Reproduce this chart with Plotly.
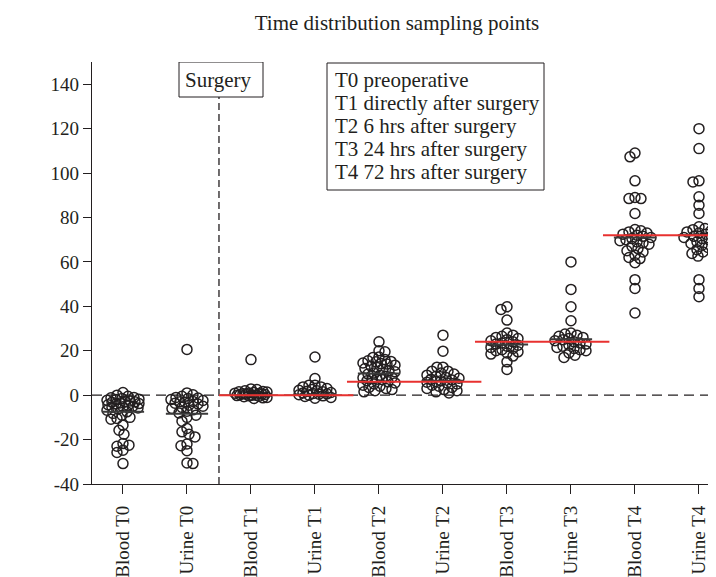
import plotly.graph_objects as go

# ---------------- data ----------------
categories = ["Blood T0", "Urine T0", "Blood T1", "Urine T1", "Blood T2",
              "Urine T2", "Blood T3", "Urine T3", "Blood T4", "Urine T4"]

blood_t0 = [1.2, 0.0, -0.5, -1.0, -1.2, -1.5, -1.8, -2.0, -2.3, -2.6, -2.8, -3.0, -3.2,
            -3.5, -3.8, -4.0, -4.3, -4.6, -5.0, -5.2, -5.4, -5.8, -6.2, -6.8, -7.5,
            -8.2, -9.0, -10.0, -10.5, -10.8, -13.5, -15.8, -17.6, -21.8, -22.5,
            -23.0, -24.8, -25.8, -30.8]
urine_t0 = [20.6, 1.0, 0.2, -0.5, -1.0, -1.3, -1.5, -2.0, -2.4, -2.8, -3.0, -3.2,
            -3.6, -4.0, -4.5, -5.0, -5.5, -6.0, -6.6, -7.2, -8.0, -9.0, -10.0,
            -11.7, -15.0, -16.5, -17.6, -18.8, -22.0, -22.8, -25.0, -30.5, -30.8]
blood_t1 = [16.0, 2.8, 2.5, 2.0, 1.7, 1.5, 1.4, 1.2, 1.0, 0.9, 0.8, 0.6, 0.5, 0.4,
            0.3, 0.2, 0.0, 0.0, -0.2, -0.3, -0.5, -0.7, -1.0, -1.2, -1.5]
urine_t1 = [17.2, 7.5, 4.5, 4.5, 3.7, 3.7, 3.0, 2.6, 2.2, 2.0, 1.8, 1.5, 1.2, 1.0,
            0.8, 0.6, 0.4, 0.2, 0.0, -0.3, -0.6, -1.0, -1.4]
blood_t2 = [24.0, 20.0, 19.5, 17.2, 17.0, 16.0, 15.5, 15.2, 15.0, 14.5, 14.2, 14.0,
            13.5, 13.0, 12.5, 12.0, 11.5, 11.0, 10.5, 10.0, 9.5, 9.0, 8.5, 8.0,
            7.8, 7.5, 7.2, 7.0, 6.5, 6.0, 5.5, 5.0, 4.5, 4.0, 3.5, 3.0, 2.5, 2.0, 1.5]
urine_t2 = [27.0, 19.8, 12.6, 12.6, 10.8, 10.8, 10.0, 9.5, 9.0, 8.5, 8.0, 7.6, 7.2,
            6.8, 6.5, 6.2, 5.8, 5.5, 5.0, 4.5, 4.0, 3.5, 3.0, 2.5, 2.0, 1.5, 1.0]
blood_t3 = [39.8, 38.6, 33.8, 28.0, 27.0, 26.5, 26.0, 25.5, 25.0, 24.5, 24.0, 23.5,
            23.0, 22.5, 22.0, 21.5, 21.0, 20.5, 20.0, 19.5, 19.0, 18.5, 17.6, 15.0, 11.6]
urine_t3 = [60.0, 47.6, 39.8, 33.5, 28.0, 27.5, 27.0, 26.5, 26.0, 25.5, 25.0, 24.5,
            24.0, 23.5, 23.0, 22.5, 22.0, 21.5, 21.0, 20.5, 20.0, 19.0, 18.0, 17.0]
blood_t4 = [109.0, 107.3, 96.5, 89.0, 88.5, 88.5, 81.8, 74.6, 74.0, 73.5, 73.0, 72.5,
            72.0, 71.5, 71.0, 70.5, 70.0, 69.5, 69.0, 68.5, 68.0, 67.0, 66.0, 65.0,
            64.5, 63.0, 62.0, 61.5, 59.6, 52.0, 48.0, 37.0]
urine_t4 = [120.0, 111.0, 96.5, 96.0, 89.3, 85.5, 81.8, 75.8, 75.0, 74.5, 74.0, 73.5,
            73.0, 72.5, 72.0, 71.5, 71.0, 70.5, 70.0, 69.0, 68.3, 67.5, 66.5, 65.5,
            64.5, 63.8, 62.6, 52.0, 48.0, 44.3]

group_values = [blood_t0, urine_t0, blood_t1, urine_t1, blood_t2,
                urine_t2, blood_t3, urine_t3, blood_t4, urine_t4]

medians = [-7.5, -8.4, 0.0, 0.3, 9.8, 6.5, 22.8, 25.2, 71.0, 72.0]
nominal_hours = [0, 6, 24, 72]            # red reference lines T1..T4
nominal_groups = [(2, 3), (4, 5), (6, 7), (8, 9)]

y_ticks = [-40, -20, 0, 20, 40, 60, 80, 100, 120, 140]
y_tick_text = ["-40", "-20", "0", "20", "40", "60", "80", "100", "120", "140"]

title_text = "Time distribution sampling points"
y_title = "(Hours)"
surgery_label = "Surgery"
legend_lines = ["T0 preoperative", "T1 directly after surgery",
                "T2 6 hrs after surgery", "T3 24 hrs after surgery",
                "T4 72 hrs after surgery"]

# ---------------- layout constants ----------------
# the page has an 8px body margin, so the figure is 708x569 and sits at (8, 8)
OFF = 8
W, H = 708, 569
ML, MR, MT, MB = 84, 0, 54, 93
X_RANGE = [-0.484, 9.266]
Y_RANGE = [-40, 150]
PW, PH = W - ML - MR, H - MT - MB
PX_X = PW / (X_RANGE[1] - X_RANGE[0])
PX_Y = PH / (Y_RANGE[1] - Y_RANGE[0])


def dx(px):   # window pixel x -> x data
    return X_RANGE[0] + (px - OFF - ML) / PX_X


def dy(py):   # window pixel y -> y data
    return Y_RANGE[1] - (py - OFF - MT) / PX_Y


INK = "#231f20"
RED = "#e8312f"
FONT = "Liberation Serif"


def swarm_offsets(values, d=6.0, cap=16):
    """Capped beeswarm: points spread horizontally up to +-cap px; when no free
    spot exists they overlap at the least crowded position."""
    order = sorted(range(len(values)), key=lambda i: -values[i])
    placed = []
    offs = [0.0] * len(values)
    cands = [0]
    for k in range(1, cap + 1):
        cands += [k, -k]
    flip = 1
    for i in order:
        yp = values[i] * PX_Y
        best, best_score = 0, -1.0
        chosen = None
        for c0 in cands:
            c = c0 * flip
            md = min([((c - px) ** 2 + (yp - py) ** 2) ** 0.5 for px, py in placed] or [1e9])
            if md >= d:
                chosen = c
                break
            if md > best_score:
                best_score, best = md, c
        if chosen is None:
            chosen = best
        placed.append((chosen, yp))
        offs[i] = chosen / PX_X
        flip = -flip
    return offs


fig = go.Figure()

for gi, vals in enumerate(group_values):
    offs = swarm_offsets(vals)
    fig.add_trace(go.Scatter(
        x=[gi + o for o in offs], y=vals, mode="markers",
        marker=dict(symbol="circle-open", size=10, color=INK, line=dict(width=1.5)),
        showlegend=False, hoverinfo="y"))

shapes = []
# zero dashed line
shapes.append(dict(type="line", xref="paper", yref="y", x0=0, x1=1, y0=0, y1=0,
                   line=dict(color=INK, width=1.3, dash="10px,6px"), layer="below"))
# surgery box and dashed vertical line
shapes.append(dict(type="rect", xref="x", yref="y", x0=dx(179), x1=dx(263),
                   y0=dy(97), y1=dy(62), line=dict(color=INK, width=1), fillcolor="white"))
shapes.append(dict(type="line", xref="x", yref="y", x0=1.5, x1=1.5, y0=Y_RANGE[0], y1=dy(97),
                   line=dict(color=INK, width=1.3, dash="7px,4px"), layer="below"))
# legend box
shapes.append(dict(type="rect", xref="x", yref="y", x0=dx(327), x1=dx(544),
                   y0=dy(190), y1=dy(63), line=dict(color=INK, width=1), fillcolor="white"))
# median lines
for gi, m in enumerate(medians):
    shapes.append(dict(type="line", xref="x", yref="y", x0=gi - 0.33, x1=gi + 0.33,
                       y0=m, y1=m, line=dict(color="#3a3a3a", width=2), layer="above"))
# nominal (red) lines
for (b, u), h in zip(nominal_groups, nominal_hours):
    shapes.append(dict(type="line", xref="x", yref="y", x0=b - 0.5, x1=u + 0.6,
                       y0=h, y1=h, line=dict(color=RED, width=2), layer="above"))

annotations = [
    dict(text=surgery_label, xref="x", yref="y", x=1.5, y=dy(79.5), xanchor="center",
         yanchor="middle", showarrow=False, font=dict(family=FONT, size=21, color=INK)),
    dict(text=y_title, xref="x", yref="y", x=dx(21), y=dy(266), textangle=-90,
         showarrow=False, xanchor="center", yanchor="middle",
         font=dict(family=FONT, size=20.5, color=INK)),
]
legend_y = [80, 102.8, 125.8, 148.8, 171.7]
for line, py in zip(legend_lines, legend_y):
    annotations.append(dict(text=line, xref="x", yref="y", x=dx(333), y=dy(py),
                            xanchor="left", yanchor="middle", showarrow=False,
                            font=dict(family=FONT, size=21, color=INK)))

fig.update_layout(
    width=W, height=H,
    margin=dict(l=ML, r=MR, t=MT, b=MB, autoexpand=False),
    paper_bgcolor="white", plot_bgcolor="white",
    font=dict(family=FONT, color=INK, size=18),
    title=dict(text=title_text, x=(397 - OFF - ML) / PW, xref="paper",
               xanchor="center", y=1 - (23 - OFF) / H, yanchor="middle",
               font=dict(family=FONT, size=21, color=INK)),
    shapes=shapes, annotations=annotations, showlegend=False,
    xaxis=dict(range=X_RANGE, tickmode="array", tickvals=list(range(len(categories))),
               ticktext=categories, tickangle=-90, ticks="outside", ticklen=9,
               tickcolor=INK, tickwidth=1.2, showline=True, linecolor=INK, linewidth=1.3,
               showgrid=False, zeroline=False, ticklabelstandoff=4,
               tickfont=dict(family=FONT, size=19, color=INK)),
    yaxis=dict(range=Y_RANGE, tickmode="array", tickvals=y_ticks, ticktext=y_tick_text,
               ticks="outside", ticklen=8, tickcolor=INK, tickwidth=1.2, showline=True,
               linecolor=INK, linewidth=1.3, showgrid=False, zeroline=False,
               tickfont=dict(family=FONT, size=19, color=INK)),
)

fig.write_html("out.html")
